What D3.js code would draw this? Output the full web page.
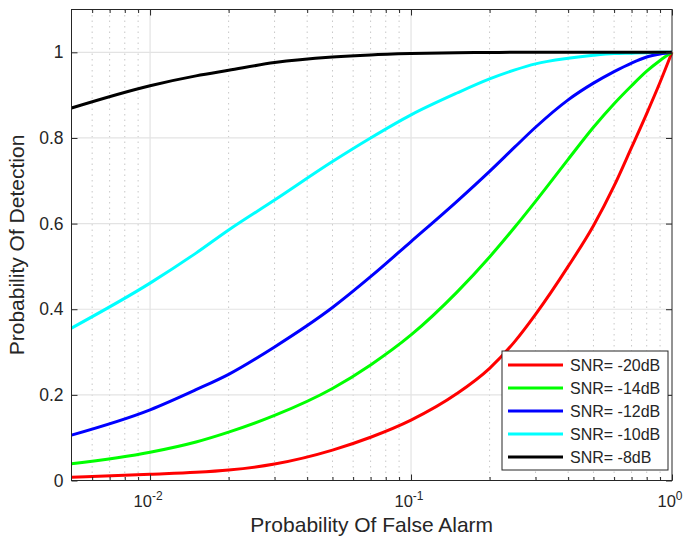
<!DOCTYPE html>
<html>
<head>
<meta charset="utf-8">
<script src="https://cdn.jsdelivr.net/npm/d3@7"></script>
<style>
  body { margin: 0; background: #fff; }
  svg text { font-family: "Liberation Sans", Arial, sans-serif; fill: #262626; }
</style>
</head>
<body>
<div id="chart"></div>
<script>
// false alarm probabilities (x) and detection probabilities per SNR
const pfa = [0.005, 0.01, 0.015, 0.02, 0.03, 0.05, 0.07, 0.1, 0.15, 0.2, 0.25, 0.3, 0.4, 0.5, 0.6, 0.7, 0.8, 0.9, 1];
const pdSnr20 = [0.0075, 0.0145, 0.019, 0.0245, 0.0385, 0.071, 0.101, 0.141, 0.203, 0.262, 0.325, 0.388, 0.500, 0.595, 0.688, 0.778, 0.857, 0.930, 1];
const pdSnr14 = [0.039, 0.066, 0.090, 0.113, 0.152, 0.215, 0.270, 0.340, 0.440, 0.522, 0.592, 0.652, 0.750, 0.825, 0.880, 0.922, 0.956, 0.981, 1];
const pdSnr12 = [0.106, 0.165, 0.212, 0.248, 0.312, 0.404, 0.476, 0.558, 0.652, 0.722, 0.779, 0.825, 0.889, 0.928, 0.955, 0.975, 0.989, 0.996, 1];
const pdSnr10 = [0.356, 0.461, 0.531, 0.585, 0.655, 0.745, 0.800, 0.854, 0.905, 0.938, 0.959, 0.973, 0.986, 0.993, 0.997, 0.998, 0.999, 1, 1];
const pdSnr8  = [0.870, 0.922, 0.945, 0.958, 0.976, 0.989, 0.994, 0.997, 0.999, 0.9995, 1, 1, 1, 1, 1, 1, 1, 1, 1];

const seriesNames = ['SNR= -20dB', 'SNR= -14dB', 'SNR= -12dB', 'SNR= -10dB', 'SNR= -8dB'];
const seriesColors = ['#ff0000', '#00ff00', '#0000ff', '#00ffff', '#000000'];
const yTicks = [0, 0.2, 0.4, 0.6, 0.8, 1];
const xMajor = [0.01, 0.1, 1];
const xTickLabels = [['10', '-2'], ['10', '-1'], ['10', '0']];

const series = [pdSnr20, pdSnr14, pdSnr12, pdSnr10, pdSnr8].map((vals, i) => ({
  name: seriesNames[i],
  color: seriesColors[i],
  points: pfa.map((p, j) => ({ p: p, v: vals[j] }))
}));

const W = 683, H = 538;
const margin = { top: 9.5, right: 11, bottom: 57.5, left: 71.5 };
const width = W - margin.left - margin.right;
const height = H - margin.top - margin.bottom;

const x = d3.scaleLog().domain([0.005, 1]).range([0, width]);
const y = d3.scaleLinear().domain([0, 1.1]).range([height, 0]);

const svg = d3.select('#chart').append('svg')
    .attr('width', W)
    .attr('height', H);
const g = svg.append('g')
    .attr('transform', 'translate(' + margin.left + ',' + margin.top + ')');

// minor ticks between decades
const xMinor = [];
for (let dec = 0.001; dec < 1; dec *= 10) {
  for (let k = 2; k <= 9; k++) {
    const v = +(dec * k).toPrecision(3);
    if (v > 0.005 && v < 1 && !xMajor.includes(v)) xMinor.push(v);
  }
}

// grid
g.append('g').selectAll('line')
    .data(xMinor).enter().append('line')
    .attr('x1', d => x(d)).attr('x2', d => x(d))
    .attr('y1', 0).attr('y2', height)
    .attr('stroke', '#c8c8c8').attr('stroke-width', 1)
    .attr('stroke-dasharray', '1.5,4');
g.append('g').selectAll('line')
    .data(xMajor.filter(d => d < 1)).enter().append('line')
    .attr('x1', d => x(d)).attr('x2', d => x(d))
    .attr('y1', 0).attr('y2', height)
    .attr('stroke', '#e3e3e3').attr('stroke-width', 1.2);
g.append('g').selectAll('line')
    .data(yTicks.filter(d => d > 0)).enter().append('line')
    .attr('x1', 0).attr('x2', width)
    .attr('y1', d => y(d)).attr('y2', d => y(d))
    .attr('stroke', '#e3e3e3').attr('stroke-width', 1.2);

// curves
const line = d3.line()
    .x(d => x(d.p))
    .y(d => y(d.v))
    .curve(d3.curveMonotoneX);

g.append('g').selectAll('path')
    .data(series).enter().append('path')
    .attr('fill', 'none')
    .attr('stroke', d => d.color)
    .attr('stroke-width', 3)
    .attr('stroke-linejoin', 'round')
    .attr('d', d => line(d.points));

// axes (MATLAB-like box with inward ticks)
const axisColor = '#262626';
const xAxisB = d3.axisBottom(x).tickValues(xMajor).tickSize(-6).tickFormat('');
const xAxisT = d3.axisTop(x).tickValues(xMajor).tickSize(-6).tickFormat('');
const yAxisL = d3.axisLeft(y).tickValues(yTicks).tickSize(-6).tickFormat('');
const yAxisR = d3.axisRight(y).tickValues(yTicks).tickSize(-6).tickFormat('');

function styleAxis(sel) {
  sel.select('.domain').remove();
  sel.selectAll('line').attr('stroke', axisColor);
}
g.append('g').attr('transform', 'translate(0,' + height + ')').call(xAxisB).call(styleAxis);
g.append('g').call(xAxisT).call(styleAxis);
g.append('g').call(yAxisL).call(styleAxis);
g.append('g').attr('transform', 'translate(' + width + ',0)').call(yAxisR).call(styleAxis);

// minor x ticks, bottom and top
g.append('g').attr('transform', 'translate(0,' + height + ')')
    .call(d3.axisBottom(x).tickValues(xMinor).tickSize(-3.5).tickFormat('')).call(styleAxis);
g.append('g')
    .call(d3.axisTop(x).tickValues(xMinor).tickSize(-3.5).tickFormat('')).call(styleAxis);

g.append('rect')
    .attr('width', width).attr('height', height)
    .attr('fill', 'none').attr('stroke', axisColor).attr('stroke-width', 1);

// tick labels
g.append('g').selectAll('text')
    .data(yTicks).enter().append('text')
    .attr('x', -8).attr('y', d => y(d))
    .attr('dy', '0.35em')
    .attr('text-anchor', 'end')
    .style('font-size', '17.5px')
    .text(d => d3.format('~g')(d));

const xl = g.append('g').selectAll('text')
    .data(xMajor).enter().append('text')
    .attr('x', d => x(d) - 2)
    .attr('y', height + 26.5)
    .attr('text-anchor', 'middle')
    .style('font-size', '16.5px');
xl.append('tspan').text((d, i) => xTickLabels[i][0]);
xl.append('tspan').attr('dy', -7).style('font-size', '12px').text((d, i) => xTickLabels[i][1]);

// axis titles
g.append('text')
    .attr('x', width / 2).attr('y', height + 51)
    .attr('text-anchor', 'middle')
    .style('font-size', '21px')
    .text('Probability Of False Alarm');
g.append('text')
    .attr('transform', 'translate(' + (-48) + ',' + (height / 2) + ') rotate(-90)')
    .attr('text-anchor', 'middle')
    .style('font-size', '21px')
    .text('Probability Of Detection');

// legend
const lg = g.append('g').attr('transform', 'translate(' + (502 - margin.left) + ',' + (351 - margin.top) + ')');
lg.append('rect')
    .attr('width', 166).attr('height', 119)
    .attr('fill', '#fff').attr('stroke', axisColor).attr('stroke-width', 1);
const rows = lg.selectAll('g.row')
    .data(series).enter().append('g')
    .attr('class', 'row')
    .attr('transform', (d, i) => 'translate(0,' + (14 + i * 23) + ')');
rows.append('line')
    .attr('x1', 6).attr('x2', 61)
    .attr('stroke', d => d.color).attr('stroke-width', 3);
rows.append('text')
    .attr('x', 68).attr('dy', '0.35em')
    .style('font-size', '16px')
    .text(d => d.name);
</script>
</body>
</html>
